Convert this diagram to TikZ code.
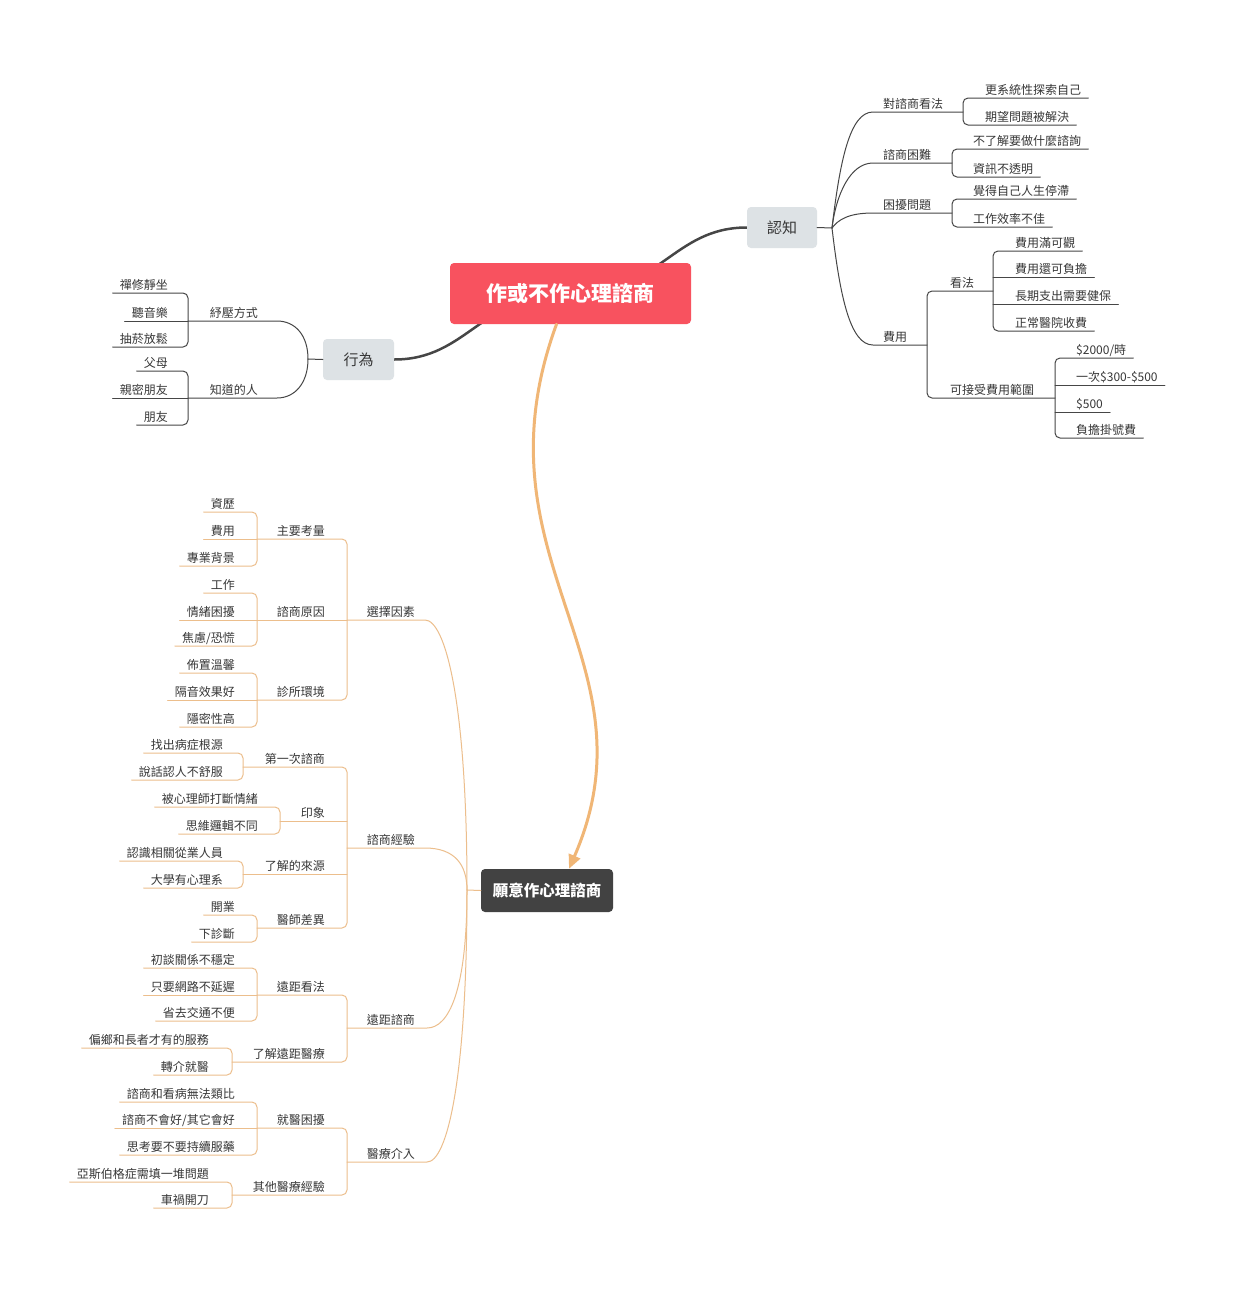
\documentclass[tikz,border=0pt]{standalone}
\usepackage{fontspec}
\newfontfamily\cjk{Noto Sans CJK TC}
\usetikzlibrary{arrows.meta,backgrounds}
\definecolor{rootred}{RGB}{248,82,95}
\definecolor{boxgray}{RGB}{221,226,229}
\definecolor{boxdark}{RGB}{66,66,66}
\definecolor{ink}{RGB}{55,55,55}
\definecolor{dline}{RGB}{70,70,70}
\definecolor{oline}{RGB}{236,190,140}
\definecolor{oarrow}{RGB}{240,182,118}
\tikzset{
  txt/.style={font=\cjk\fontsize{12}{14}\selectfont, text=ink, inner xsep=0pt, inner ysep=3pt, text height=9pt, text depth=0pt},
  tr/.style={txt, anchor=south west},
  tl/.style={txt, anchor=south east},
  dk/.style={draw=dline, line width=1pt},
  dkr/.style={dk, rounded corners=5pt},
  ol/.style={draw=oline, line width=1pt},
  olr/.style={ol, rounded corners=5pt},
  big/.style={draw=dline, line width=2.5pt},
  arr/.style={draw=oarrow, line width=3pt, -{Triangle[length=14pt,width=12pt]}},
  topic/.style={rounded corners=4pt, fill=boxgray, text=ink, font=\cjk\fontsize{15}{18}\selectfont, minimum width=70pt, minimum height=41pt, inner sep=0pt},
}
\begin{document}
\begin{tikzpicture}[x=1pt, y=-1pt, line cap=round, line join=round]
\useasboundingbox (0,0) rectangle (1240,1291);

% boxes
\node[rounded corners=4pt, fill=rootred, text=white, font=\cjk\bfseries\fontsize{21}{24}\selectfont, minimum width=241pt, minimum height=61pt, inner sep=0pt] (root) at (570.5,293.5) {作或不作心理諮商};
\node[topic] (cog) at (782,227.5) {認知};
\node[topic, minimum width=71pt] (beh) at (358.5,359.5) {行為};
\node[rounded corners=4pt, fill=boxdark, text=white, font=\cjk\bfseries\fontsize{15.5}{18}\selectfont, minimum width=132pt, minimum height=43pt, inner sep=0pt] (will) at (547,890.5) {願意作心理諮商};

\begin{scope}[on background layer]
  \fill[white] (0,0) rectangle (1240,1291);
  \draw[big] (root.center) .. controls +(90,0) and +(-74,0) .. (cog.west);
  \draw[big] (root.center) .. controls +(-90,0) and +(74,0) .. (beh.east);
\end{scope}
\draw[arr] ([xshift=-14pt]root.south) .. controls (470,560) and (660,660) .. ([xshift=22pt]will.north);

% ---------- 認知 ----------
\coordinate (cogh) at (832,228);
\draw[dk] (cog.east) -- (cogh);
\node[tr] (opin) at (883,112) {對諮商看法};
\node[tr] (hard) at (883,163) {諮商困難};
\node[tr] (trou) at (883,213) {困擾問題};
\node[tr] (cost) at (883,345) {費用};
\coordinate (opinB) at (963,112);
\coordinate (hardB) at (952,163);
\coordinate (trouB) at (952,213);
\coordinate (costB) at (927,345);
\draw[dk] (cogh) .. controls +(8,-68) and +(-23,0) .. ([xshift=-10pt]opin.south west) -- (opinB);
\draw[dk] (cogh) .. controls +(4,-33) and +(-23,0) .. ([xshift=-10pt]hard.south west) -- (hardB);
\draw[dk] (cogh) .. controls +(6,-8) and +(-25,0) .. ([xshift=-10pt]trou.south west) -- (trouB);
\draw[dk] (cogh) .. controls +(8,68) and +(-23,0) .. ([xshift=-10pt]cost.south west) -- (costB);

\node[tr] (o1) at (985,98) {更系統性探索自己};
\node[tr] (o2) at (985,125) {期望問題被解決};
\draw[dkr] ([xshift=7pt]o1.south east) -| (opinB) |- ([xshift=7pt]o2.south east);
\node[tr] (h1) at (973,149) {不了解要做什麼諮詢};
\node[tr] (h2) at (973,177) {資訊不透明};
\draw[dkr] ([xshift=7pt]h1.south east) -| (hardB) |- ([xshift=7pt]h2.south east);
\node[tr] (t1) at (973,199) {覺得自己人生停滯};
\node[tr] (t2) at (973,227) {工作效率不佳};
\draw[dkr] ([xshift=7pt]t1.south east) -| (trouB) |- ([xshift=7pt]t2.south east);

\node[tr] (view) at (950,291) {看法};
\node[tr] (rng) at (950,398) {可接受費用範圍};
\coordinate (viewB) at (993,291);
\coordinate (rngB) at (1055,398);
\draw[dkr] (viewB) -| (costB) |- (rngB);
\foreach \n/\y/\t in {v1/251/費用滿可觀, v2/277/費用還可負擔, v3/304/長期支出需要健保, v4/331/正常醫院收費}
  \node[tr] (\n) at (1015,\y) {\t};
\draw[dkr] ([xshift=7pt]v1.south east) -| (viewB) |- ([xshift=7pt]v4.south east);
\foreach \n in {v2,v3}
  \draw[dk] ([xshift=7pt]\n.south east) -- (\n.south -| viewB);
\foreach \n/\y/\t in {r1/358/{\$2000/時}, r2/385/{一次\$300-\$500}, r3/412/{\$500}, r4/438/{負擔掛號費}}
  \node[tr] (\n) at (1076,\y) {\t};
\draw[dkr] ([xshift=7pt]r1.south east) -| (rngB) |- ([xshift=7pt]r4.south east);
\foreach \n in {r2,r3}
  \draw[dk] ([xshift=7pt]\n.south east) -- (\n.south -| rngB);

% ---------- 行為 ----------
\coordinate (behh) at (308,359);
\draw[dk] (beh.west) -- (behh);
\node[tl] (relx) at (258,321) {紓壓方式};
\node[tl] (know) at (258,398) {知道的人};
\coordinate (relxB) at (188,321);
\coordinate (knowB) at (188,398);
\draw[dk] (behh) .. controls +(0,-24) and +(18,0) .. ([xshift=19pt]relx.south east) -- (relxB);
\draw[dk] (behh) .. controls +(0,24) and +(18,0) .. ([xshift=19pt]know.south east) -- (knowB);
\foreach \n/\y/\t in {m1/293/禪修靜坐, m2/321/聽音樂, m3/347/抽菸放鬆, k1/371/父母, k2/398/親密朋友, k3/425/朋友}
  \node[tl] (\n) at (168,\y) {\t};
\draw[dkr] ([xshift=-7pt]m1.south west) -| (relxB) |- ([xshift=-7pt]m3.south west);
\draw[dk] ([xshift=-7pt]m2.south west) -- (relxB);
\draw[dkr] ([xshift=-7pt]k1.south west) -| (knowB) |- ([xshift=-7pt]k3.south west);
\draw[dk] ([xshift=-7pt]k2.south west) -- (knowB);

% ---------- 願意作心理諮商 ----------
\coordinate (willh) at (467,890);
\draw[ol] (will.west) -- (willh);
\node[tl] (cho) at (415,620) {選擇因素};
\node[tl] (exp) at (415,848) {諮商經驗};
\node[tl] (rem) at (415,1028) {遠距諮商};
\node[tl] (med) at (415,1162) {醫療介入};
\coordinate (choB) at (347,620);
\coordinate (expB) at (347,848);
\coordinate (remB) at (347,1028);
\coordinate (medB) at (347,1162);
\draw[ol] (willh) .. controls +(0,-190) and +(20,0) .. ([xshift=10pt]cho.south east) -- (choB);
\draw[ol] (willh) .. controls +(0,-25) and +(30,0) .. ([xshift=10pt]exp.south east) -- (expB);
\draw[ol] (willh) .. controls +(0,100) and +(22,0) .. ([xshift=12pt]rem.south east) -- (remB);
\draw[ol] (willh) .. controls +(0,190) and +(20,0) .. ([xshift=12pt]med.south east) -- (medB);

% 選擇因素
\node[tl] (main) at (325,539) {主要考量};
\node[tl] (why) at (325,620) {諮商原因};
\node[tl] (env) at (325,700) {診所環境};
\coordinate (mainB) at (257,539);
\coordinate (whyB) at (257,620);
\coordinate (envB) at (257,700);
\draw[olr] (mainB) -| (choB) |- (envB);
\draw[ol] (whyB) -- (choB);
\foreach \n/\y/\t in {a1/512/資歷, a2/539/費用, a3/566/專業背景, w1/593/工作, w2/620/情緒困擾, w3/646/{焦慮/恐慌}, e1/673/佈置溫馨, e2/700/隔音效果好, e3/727/隱密性高}
  \node[tl] (\n) at (235,\y) {\t};
\draw[olr] ([xshift=-7pt]a1.south west) -| (mainB) |- ([xshift=-7pt]a3.south west);
\draw[ol] ([xshift=-7pt]a2.south west) -- (mainB);
\draw[olr] ([xshift=-7pt]w1.south west) -| (whyB) |- ([xshift=-7pt]w3.south west);
\draw[ol] ([xshift=-7pt]w2.south west) -- (whyB);
\draw[olr] ([xshift=-7pt]e1.south west) -| (envB) |- ([xshift=-7pt]e3.south west);
\draw[ol] ([xshift=-7pt]e2.south west) -- (envB);

% 諮商經驗
\node[tl] (first) at (325,767) {第一次諮商};
\node[tl] (imp) at (325,821) {印象};
\node[tl] (src) at (325,874) {了解的來源};
\node[tl] (doc) at (325,928) {醫師差異};
\coordinate (firstB) at (243,767);
\coordinate (impB) at (280,821);
\coordinate (srcB) at (243,874);
\coordinate (docB) at (257,928);
\draw[olr] (firstB) -| (expB) |- (docB);
\draw[ol] (impB) -- (imp.south -| expB);
\draw[ol] (srcB) -- (src.south -| expB);
\foreach \n/\y/\t in {f1/753/找出病症根源, f2/780/說話認人不舒服, s1/861/認識相關從業人員, s2/888/大學有心理系}
  \node[tl] (\n) at (223,\y) {\t};
\node[tl] (i1) at (258,807) {被心理師打斷情緒};
\node[tl] (i2) at (258,834) {思維邏輯不同};
\node[tl] (c1) at (235,915) {開業};
\node[tl] (c2) at (235,942) {下診斷};
\draw[olr] ([xshift=-7pt]f1.south west) -| (firstB) |- ([xshift=-7pt]f2.south west);
\draw[olr] ([xshift=-7pt]i1.south west) -| (impB) |- ([xshift=-7pt]i2.south west);
\draw[olr] ([xshift=-7pt]s1.south west) -| (srcB) |- ([xshift=-7pt]s2.south west);
\draw[olr] ([xshift=-7pt]c1.south west) -| (docB) |- ([xshift=-7pt]c2.south west);

% 遠距諮商
\node[tl] (rview) at (325,995) {遠距看法};
\node[tl] (rknow) at (325,1062) {了解遠距醫療};
\coordinate (rviewB) at (257,995);
\coordinate (rknowB) at (232,1062);
\draw[olr] (rviewB) -| (remB) |- (rknowB);
\foreach \n/\y/\t in {q1/968/初談關係不穩定, q2/995/只要網路不延遲, q3/1021/省去交通不便}
  \node[tl] (\n) at (235,\y) {\t};
\draw[olr] ([xshift=-7pt]q1.south west) -| (rviewB) |- ([xshift=-7pt]q3.south west);
\draw[ol] ([xshift=-7pt]q2.south west) -- (rviewB);
\node[tl] (u1) at (209,1048) {偏鄉和長者才有的服務};
\node[tl] (u2) at (209,1075) {轉介就醫};
\draw[olr] ([xshift=-7pt]u1.south west) -| (rknowB) |- ([xshift=-7pt]u2.south west);

% 醫療介入
\node[tl] (hosp) at (325,1128) {就醫困擾};
\node[tl] (oth) at (325,1195) {其他醫療經驗};
\coordinate (hospB) at (257,1128);
\coordinate (othB) at (232,1195);
\draw[olr] (hospB) -| (medB) |- (othB);
\foreach \n/\y/\t in {g1/1102/諮商和看病無法類比, g2/1128/{諮商不會好/其它會好}, g3/1155/思考要不要持續服藥}
  \node[tl] (\n) at (235,\y) {\t};
\draw[olr] ([xshift=-7pt]g1.south west) -| (hospB) |- ([xshift=-7pt]g3.south west);
\draw[ol] ([xshift=-7pt]g2.south west) -- (hospB);
\node[tl] (x1) at (209,1182) {亞斯伯格症需填一堆問題};
\node[tl] (x2) at (209,1208) {車禍開刀};
\draw[olr] ([xshift=-7pt]x1.south west) -| (othB) |- ([xshift=-7pt]x2.south west);

\end{tikzpicture}
\end{document}
